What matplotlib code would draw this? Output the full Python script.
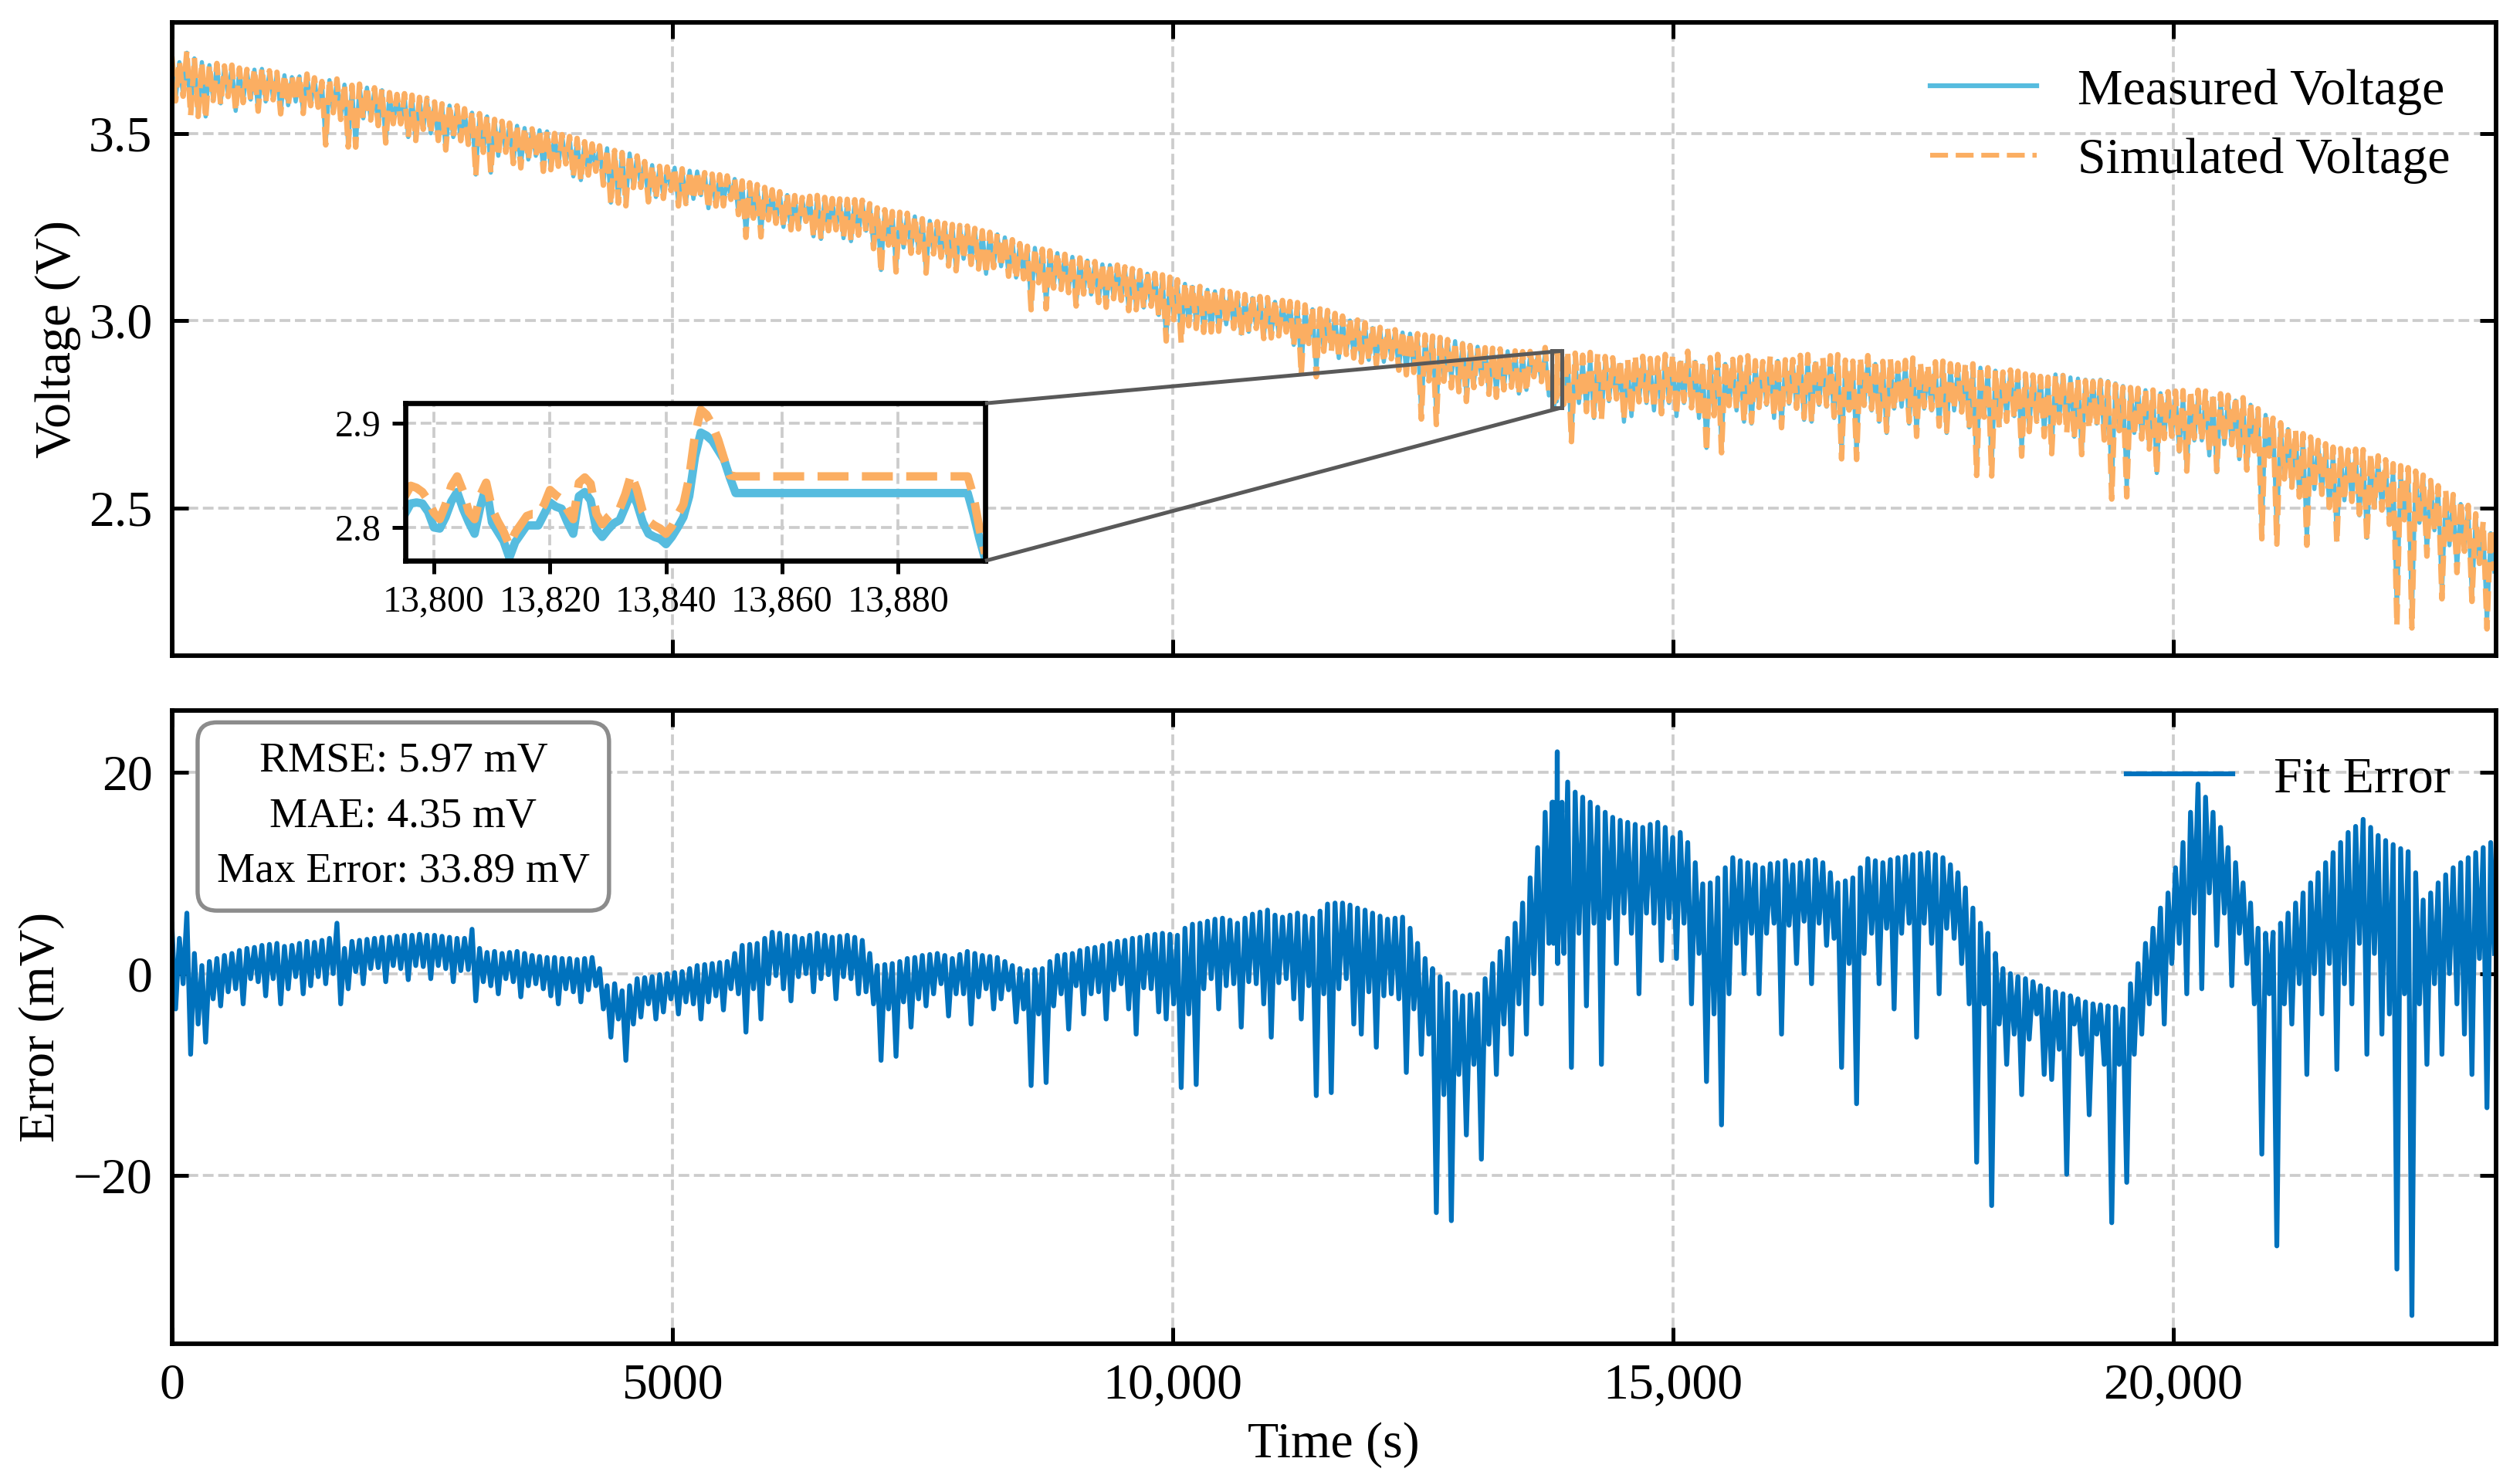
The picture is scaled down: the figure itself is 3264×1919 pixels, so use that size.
import numpy as np
import matplotlib
matplotlib.use('Agg')
import matplotlib.pyplot as plt
from matplotlib.ticker import FuncFormatter
from mpl_toolkits.axes_grid1.inset_locator import mark_inset

plt.rcParams['font.family'] = ['Liberation Serif', 'DejaVu Serif']
plt.rcParams['font.size'] = 15.8

# ---- data: every 75 s a rest value, then a pulse value 37.5 s later ----
step = 75.0

# measured voltage, rest readings [V]
v_hi = [3.700, 3.690, 3.715, 3.700, 3.690, 3.682, 3.685, 3.678, 3.680, 3.672,
        3.668, 3.670, 3.672, 3.664, 3.660, 3.655, 3.650, 3.652, 3.655, 3.645,
        3.635, 3.642, 3.640, 3.630, 3.625, 3.628, 3.622, 3.618, 3.615, 3.605,
        3.600, 3.602, 3.598, 3.592, 3.590, 3.580, 3.575, 3.574, 3.570, 3.562,
        3.555, 3.550, 3.545, 3.535, 3.530, 3.525, 3.520, 3.514, 3.510, 3.508,
        3.505, 3.498, 3.495, 3.490, 3.485, 3.476, 3.470, 3.466, 3.460, 3.455,
        3.450, 3.446, 3.440, 3.425, 3.415, 3.412, 3.410, 3.408, 3.405, 3.400,
        3.398, 3.394, 3.390, 3.388, 3.385, 3.378, 3.370, 3.365, 3.360, 3.352,
        3.345, 3.340, 3.335, 3.330, 3.325, 3.328, 3.330, 3.325, 3.322, 3.321,
        3.320, 3.319, 3.318, 3.310, 3.300, 3.295, 3.290, 3.288, 3.285, 3.278,
        3.270, 3.266, 3.262, 3.258, 3.255, 3.252, 3.250, 3.244, 3.238, 3.234,
        3.230, 3.222, 3.215, 3.205, 3.198, 3.194, 3.190, 3.185, 3.180, 3.175,
        3.170, 3.165, 3.160, 3.155, 3.150, 3.148, 3.145, 3.140, 3.135, 3.130,
        3.125, 3.122, 3.118, 3.112, 3.105, 3.098, 3.090, 3.086, 3.082, 3.078,
        3.075, 3.072, 3.068, 3.064, 3.060, 3.058, 3.055, 3.050, 3.048, 3.045,
        3.042, 3.036, 3.030, 3.025, 3.020, 3.012, 3.005, 3.000, 2.995, 2.988,
        2.980, 2.976, 2.973, 2.970, 2.968, 2.965, 2.962, 2.960, 2.958, 2.955,
        2.950, 2.945, 2.940, 2.935, 2.930, 2.928, 2.925, 2.922, 2.918, 2.914,
        2.910, 2.908, 2.905, 2.912, 2.915, 2.905, 2.900, 2.895, 2.890, 2.898,
        2.895, 2.888, 2.885, 2.882, 2.880, 2.892, 2.890, 2.884, 2.885, 2.895,
        2.895, 2.888, 2.905, 2.890, 2.880, 2.892, 2.900, 2.884, 2.885, 2.890,
        2.895, 2.882, 2.880, 2.894, 2.892, 2.884, 2.885, 2.896, 2.898, 2.886,
        2.890, 2.896, 2.900, 2.885, 2.882, 2.890, 2.895, 2.884, 2.880, 2.886,
        2.875, 2.882, 2.888, 2.876, 2.870, 2.878, 2.880, 2.874, 2.872, 2.876,
        2.878, 2.874, 2.870, 2.866, 2.862, 2.868, 2.865, 2.858, 2.855, 2.852,
        2.850, 2.856, 2.855, 2.848, 2.845, 2.842, 2.840, 2.842, 2.838, 2.832,
        2.825, 2.822, 2.818, 2.814, 2.810, 2.806, 2.802, 2.801, 2.800, 2.798,
        2.795, 2.794, 2.792, 2.790, 2.788, 2.786, 2.785, 2.775, 2.760, 2.748,
        2.735, 2.722, 2.710, 2.700, 2.690, 2.680, 2.670, 2.660, 2.650, 2.645,
        2.640, 2.642, 2.640, 2.632, 2.625, 2.615, 2.605, 2.600, 2.595, 2.588,
        2.580, 2.565, 2.550, 2.538, 2.525, 2.510, 2.495, 2.472, 2.450, 2.432]

# measured voltage, pulse readings [V]
v_lo = [3.590, 3.600, 3.555, 3.550, 3.545, 3.590, 3.580, 3.600, 3.560, 3.585,
        3.590, 3.560, 3.585, 3.590, 3.555, 3.575, 3.585, 3.555, 3.575, 3.570,
        3.470, 3.555, 3.540, 3.465, 3.463, 3.540, 3.535, 3.520, 3.475, 3.525,
        3.525, 3.490, 3.480, 3.510, 3.500, 3.480, 3.455, 3.490, 3.480, 3.470,
        3.390, 3.450, 3.395, 3.440, 3.450, 3.420, 3.410, 3.430, 3.440, 3.400,
        3.405, 3.415, 3.420, 3.385, 3.375, 3.390, 3.400, 3.365, 3.315, 3.318,
        3.315, 3.360, 3.360, 3.320, 3.330, 3.330, 3.350, 3.310, 3.315, 3.325,
        3.335, 3.300, 3.308, 3.310, 3.325, 3.285, 3.228, 3.275, 3.228, 3.270,
        3.260, 3.250, 3.245, 3.245, 3.265, 3.225, 3.218, 3.240, 3.245, 3.220,
        3.212, 3.230, 3.240, 3.195, 3.135, 3.205, 3.138, 3.195, 3.185, 3.185,
        3.130, 3.180, 3.170, 3.150, 3.135, 3.165, 3.155, 3.140, 3.125, 3.145,
        3.145, 3.120, 3.115, 3.115, 3.040, 3.105, 3.042, 3.090, 3.085, 3.080,
        3.040, 3.075, 3.070, 3.050, 3.040, 3.060, 3.055, 3.030, 3.035, 3.035,
        3.040, 3.015, 2.950, 3.005, 2.952, 2.990, 2.990, 2.970, 2.970, 2.975,
        2.990, 2.980, 2.965, 2.970, 2.980, 2.955, 2.960, 2.960, 2.970, 2.935,
        2.860, 2.940, 2.862, 2.920, 2.930, 2.900, 2.910, 2.905, 2.895, 2.895,
        2.890, 2.890, 2.900, 2.870, 2.865, 2.865, 2.745, 2.845, 2.746, 2.850,
        2.845, 2.820, 2.800, 2.830, 2.850, 2.810, 2.805, 2.820, 2.830, 2.805,
        2.815, 2.850, 2.840, 2.800, 2.690, 2.775, 2.686, 2.780, 2.760, 2.740,
        2.745, 2.785, 2.790, 2.730, 2.745, 2.785, 2.780, 2.760, 2.750, 2.780,
        2.745, 2.780, 2.770, 2.740, 2.660, 2.750, 2.662, 2.775, 2.760, 2.730,
        2.725, 2.770, 2.775, 2.740, 2.720, 2.778, 2.765, 2.735, 2.730, 2.775,
        2.770, 2.740, 2.640, 2.760, 2.642, 2.772, 2.760, 2.730, 2.700, 2.765,
        2.770, 2.725, 2.697, 2.765, 2.760, 2.720, 2.700, 2.760, 2.755, 2.715,
        2.605, 2.745, 2.608, 2.720, 2.740, 2.745, 2.650, 2.710, 2.735, 2.700,
        2.655, 2.735, 2.720, 2.690, 2.650, 2.725, 2.725, 2.690, 2.548, 2.715,
        2.550, 2.700, 2.690, 2.660, 2.593, 2.690, 2.690, 2.650, 2.600, 2.680,
        2.680, 2.640, 2.595, 2.670, 2.670, 2.630, 2.600, 2.655, 2.435, 2.640,
        2.430, 2.580, 2.560, 2.530, 2.410, 2.550, 2.540, 2.500, 2.415, 2.520,
        2.520, 2.480, 2.420, 2.500, 2.500, 2.460, 2.215, 2.470, 2.213, 2.460,
        2.380, 2.440, 2.265, 2.400, 2.330, 2.390, 2.260, 2.350, 2.190, 2.330]

# fit error (simulated - measured) at the rest instants [mV]
e_hi = [4.9, 3.5, 6.0, 2.0, 0.8, 1.2, 1.5, 1.8, 2.0, 2.3,
        2.5, 2.6, 2.8, 2.9, 3.0, 2.7, 2.8, 3.0, 3.2, 3.1,
        3.3, 3.5, 5.0, 2.5, 3.2, 3.3, 3.4, 3.5, 3.6, 3.6,
        3.7, 3.8, 3.8, 3.9, 3.8, 3.8, 3.7, 3.6, 3.5, 3.5,
        4.4, 2.5, 2.1, 2.2, 2.0, 2.1, 2.2, 2.0, 1.8, 1.7,
        1.6, 1.6, 1.5, 1.5, 1.4, 1.5, 1.6, 0.5, -1.2, -1.0,
        -1.7, -1.2, -0.5, -0.4, -0.3, -0.1, 0.0, 0.1, 0.2, 0.5,
        0.8, 0.9, 1.0, 1.1, 1.2, 2.0, 2.8, 2.9, 3.0, 3.5,
        4.1, 4.0, 3.8, 3.7, 3.5, 3.8, 4.0, 3.8, 3.6, 3.7,
        3.8, 3.6, 3.3, 2.0, 0.8, 0.9, 1.0, 1.2, 1.5, 1.6,
        1.8, 1.9, 2.0, 1.8, 1.5, 1.9, 2.2, 2.0, 1.8, 1.7,
        1.6, 1.2, 0.8, 0.5, 0.3, 0.4, 0.5, 1.2, 1.8, 1.9,
        2.0, 2.3, 2.5, 2.6, 2.8, 3.0, 3.2, 3.3, 3.5, 3.6,
        3.8, 3.9, 4.0, 3.9, 3.8, 4.5, 4.9, 5.0, 5.2, 5.4,
        5.5, 5.3, 5.0, 5.5, 5.9, 6.1, 6.3, 5.8, 5.6, 5.8,
        6.0, 5.7, 5.5, 6.2, 6.9, 7.0, 7.0, 6.8, 6.5, 6.3,
        6.0, 5.7, 5.4, 5.5, 5.6, 4.5, 3.0, 1.5, 0.5, -0.3,
        -1.0, -1.8, -2.2, -2.1, -2.0, -0.5, 1.0, 2.2, 3.5, 5.0,
        7.0, 9.5, 12.5, 16.0, 20.0, 21.0, 19.0, 18.0, 17.5, 17.0,
        16.5, 16.0, 15.5, 15.2, 15.0, 14.8, 14.5, 14.8, 15.0, 14.5,
        13.5, 14.0, 13.0, 11.0, 8.9, 9.0, 9.5, 10.5, 11.5, 11.2,
        11.0, 10.8, 10.5, 10.9, 11.0, 11.2, 10.8, 11.0, 11.2, 11.3,
        11.0, 10.0, 9.0, 9.2, 9.5, 10.5, 11.4, 11.2, 11.0, 11.3,
        11.5, 11.6, 11.8, 11.9, 12.0, 11.8, 11.5, 10.8, 10.0, 8.5,
        6.5, 5.0, 4.0, 2.0, 0.5, 0.0, -0.3, -0.5, -0.8, -1.2,
        -1.5, -1.8, -2.0, -2.2, -2.5, -2.8, -3.0, -3.1, -3.2, -3.3,
        -3.5, -1.0, 1.0, 3.0, 4.5, 6.5, 8.0, 10.5, 13.0, 16.0,
        18.8, 17.5, 16.0, 14.5, 12.5, 11.0, 9.0, 7.0, 4.5, 4.0,
        4.1, 5.0, 6.0, 7.0, 8.0, 9.0, 10.0, 11.0, 12.0, 13.0,
        14.0, 14.6, 15.3, 14.5, 13.7, 13.2, 12.8, 12.4, 12.1, 10.0,
        7.3, 8.0, 9.0, 9.8, 10.5, 11.0, 11.5, 12.0, 12.5, 13.0]

# fit error at the pulse instants [mV]
e_lo = [-3.5, -1.0, -8.0, -5.0, -6.8, -2.5, -3.2, -1.8, -1.5, -3.0,
        -0.5, -0.8, -2.2, -0.5, -3.0, -1.5, -0.3, -2.0, -1.2, -0.3,
        -1.0, 0.0, -3.0, -1.5, 0.2, -1.0, 0.5, 0.6, -0.8, 0.8,
        0.5, -0.6, 0.8, 0.7, -0.5, 0.8, 0.5, -0.8, 0.3, 0.4,
        -2.7, -0.8, -1.2, -2.0, -0.5, -0.8, -2.3, -1.2, -1.0, -1.5,
        -2.2, -3.0, -1.5, -1.8, -2.8, -1.6, -1.2, -3.5, -6.3, -4.5,
        -8.6, -5.0, -4.3, -3.0, -4.5, -3.8, -2.5, -4.0, -2.8, -3.0,
        -4.5, -2.8, -2.2, -3.6, -1.5, -2.0, -5.8, -1.5, -4.5, -1.0,
        -0.2, -1.5, -2.7, -0.3, 0.0, -1.8, -0.5, -0.1, -2.5, -0.3,
        -0.5, -2.0, -1.8, -3.0, -8.6, -3.5, -8.2, -2.8, -5.3, -2.5,
        -3.2, -2.0, -1.0, -4.2, -2.0, -2.0, -5.0, -2.3, -1.5, -3.5,
        -2.5, -1.6, -4.8, -3.5, -11.1, -4.0, -10.8, -3.2, -2.0, -5.5,
        -1.2, -4.0, -2.0, -1.8, -4.5, -1.6, -1.0, -3.5, -6.0, -1.4,
        -1.5, -3.8, -4.5, -3.0, -11.3, -4.0, -11.0, -1.5, -0.5, -3.5,
        -1.2, -1.0, -5.3, -0.8, -1.0, -3.0, -6.3, -0.9, -0.5, -2.5,
        -4.5, -1.2, -12.1, -2.0, -11.8, -1.5, -0.5, -5.0, -6.0, -1.8,
        -7.3, -2.2, -2.0, -2.5, -9.8, -3.5, -8.0, -6.0, -23.7, -12.0,
        -24.5, -10.0, -16.0, -9.0, -18.4, -7.0, -10.0, -5.0, -8.0, -3.0,
        -6.0, 0.0, -3.0, 3.0, 5.0, 2.0, -9.3, 4.0, -3.2, 5.0,
        -9.0, 5.5, 1.0, 6.0, 4.0, -2.0, 6.0, 5.0, 1.3, 5.5,
        1.5, 5.0, -3.0, 2.0, -10.7, -4.0, -15.0, -2.0, 3.0, 0.0,
        4.0, -2.0, 4.0, 5.0, -6.0, 4.8, 1.0, 5.2, -1.0, 5.0,
        2.8, 3.5, -9.3, 1.0, -12.9, 2.0, 4.0, -1.0, 4.5, -3.5,
        4.0, 5.0, -6.3, 5.0, 3.0, -2.0, 4.5, 3.5, 1.0, -3.0,
        -18.7, -3.0, -23.0, -5.0, -9.0, -6.0, -12.0, -6.5, -4.0, -10.0,
        -10.5, -7.5, -19.9, -5.0, -8.0, -14.0, -6.0, -9.0, -24.7, -9.0,
        -20.7, -8.0, -6.0, -3.0, -2.0, -5.0, 1.0, 3.0, -2.0, 6.0,
        -1.5, 8.0, 2.8, 6.0, -1.2, 4.0, 1.0, -3.0, -17.9, -2.0,
        -27.0, -3.0, -5.0, -1.0, -10.0, 0.0, -4.0, 1.0, -9.5, -1.0,
        -3.0, 3.0, -8.0, 2.0, -6.0, -4.0, -29.3, -2.0, -33.9, -3.0,
        -9.0, -1.0, -8.0, 0.0, -3.0, -6.0, -10.0, 1.5, -13.3, 2.0]

# 1 s detail shown in the inset
t_zoom = list(range(13795, 13853)) + [13892, 13893, 13894, 13895]
meas_zoom = [2.813, 2.823, 2.824, 2.823, 2.815, 2.800, 2.799, 2.810, 2.825, 2.834,
             2.818, 2.805, 2.794, 2.820, 2.840, 2.805, 2.796, 2.787, 2.771, 2.786,
             2.794, 2.802, 2.802, 2.802, 2.813, 2.824, 2.820, 2.818, 2.805, 2.794,
             2.830, 2.834, 2.826, 2.798, 2.791, 2.798, 2.804, 2.807, 2.820, 2.834,
             2.823, 2.805, 2.794, 2.791, 2.789, 2.784, 2.791, 2.800, 2.810, 2.830,
             2.868, 2.891, 2.888, 2.883, 2.874, 2.865, 2.848, 2.833,
             2.833, 2.813, 2.790, 2.770]
sim_zoom = [2.830, 2.840, 2.838, 2.834, 2.826, 2.814, 2.808, 2.822, 2.840, 2.849,
            2.835, 2.815, 2.808, 2.831, 2.843, 2.818, 2.806, 2.796, 2.783, 2.795,
            2.803, 2.811, 2.813, 2.813, 2.822, 2.836, 2.831, 2.827, 2.817, 2.808,
            2.843, 2.848, 2.842, 2.813, 2.803, 2.810, 2.815, 2.818, 2.832, 2.851,
            2.836, 2.815, 2.806, 2.802, 2.799, 2.794, 2.801, 2.812, 2.822, 2.848,
            2.889, 2.913, 2.908, 2.898, 2.884, 2.866, 2.850, 2.849,
            2.849, 2.830, 2.800, 2.775]

x_ticks = [0, 5000, 10000, 15000, 20000]
x_tick_labels = ['0', '5000', '10,000', '15,000', '20,000']
stats_text = 'RMSE: 5.97 mV\nMAE: 4.35 mV\nMax Error: 33.89 mV'

# ---- assemble series ----
t_hi = np.arange(len(v_hi)) * step
t = np.column_stack([t_hi, t_hi + step / 2]).ravel()
meas = np.column_stack([v_hi, v_lo]).ravel()
err = np.column_stack([e_hi, e_lo]).ravel()
sim = meas + err / 1000.0

tz = np.array(t_zoom, dtype=float)
mz = np.array(meas_zoom)
sz = np.array(sim_zoom)
keep = (t < tz[0]) | (t > tz[-1])
t_all = np.concatenate([t[keep], tz])
order = np.argsort(t_all)
t_all = t_all[order]
meas_all = np.concatenate([meas[keep], mz])[order]
sim_all = np.concatenate([sim[keep], sz])[order]
err_all = np.concatenate([err[keep], (sz - mz) * 1000.0])[order]

c_meas = '#56BCDF'
c_sim = '#FBAE62'
c_err = '#0072BD'
grid_kw = dict(ls='--', color='0.8', lw=0.9)

fig = plt.figure(figsize=(10.88, 6.397), dpi=300)
ax1 = fig.add_axes([0.0682, 0.5575, 0.9222, 0.4273])
ax2 = fig.add_axes([0.0682, 0.0933, 0.9222, 0.4273], sharex=ax1)

for ax in (ax1, ax2):
    ax.tick_params(direction='in', top=True, right=True, length=5, width=1.2, pad=6)
    for s in ax.spines.values():
        s.set_linewidth(1.4)
    ax.grid(True, **grid_kw)

# top: voltages
ax1.plot(t_all, meas_all, color=c_meas, lw=1.3, label='Measured Voltage')
ax1.plot(t_all, sim_all, color=c_sim, lw=1.7, ls='--', label='Simulated Voltage')
ax1.set_ylim(2.105, 3.796)
ax1.set_yticks([2.5, 3.0, 3.5])
ax1.set_ylabel('Voltage (V)', labelpad=2.5)
ax1.tick_params(labelbottom=False)
leg1 = ax1.legend(loc='upper right', frameon=False, handlelength=2.1, handletextpad=0.8,
                  labelspacing=0.45)
for ln in leg1.get_lines():
    ln.set_linewidth(1.5)

# bottom: error
ax2.plot(t_all, err_all, color=c_err, lw=1.5, label='Fit Error')
ax2.set_xlim(0, 23226)
ax2.set_ylim(-36.7, 26.1)
ax2.set_yticks([-20, 0, 20])
ax2.set_xticks(x_ticks, labels=x_tick_labels)
ax2.set_xlabel('Time (s)', labelpad=4)
ax2.set_ylabel('Error (mV)', labelpad=2.5)
ax2.legend(loc='upper right', frameon=False, handlelength=2.1, handletextpad=0.8)
ax2.text(0.0996, 0.8325, stats_text, transform=ax2.transAxes, ha='center', va='center',
         multialignment='center', fontsize=13.3, linespacing=1.55,
         bbox=dict(boxstyle='round,pad=0.45', fc='white', ec='0.55', lw=1.3))

# inset
axins = fig.add_axes([0.1607, 0.6215, 0.2302, 0.1063])
axins.plot(tz, mz, color=c_meas, lw=2.6)
axins.plot(tz, sz, color=c_sim, lw=2.6, ls='--')
axins.set_xlim(13795, 13895)
axins.set_ylim(2.768, 2.919)
axins.set_xticks([13800, 13820, 13840, 13860, 13880])
axins.set_yticks([2.8, 2.9])
axins.xaxis.set_major_formatter(FuncFormatter(lambda x, pos: f'{x:,.0f}'))
axins.tick_params(direction='out', labelsize=11.5, length=4, width=1.2)
axins.grid(True, **grid_kw)
for s in axins.spines.values():
    s.set_linewidth(1.6)
mark_inset(ax1, axins, loc1=1, loc2=4, fc='none', ec='0.35', lw=1.2, zorder=5)

fig.savefig('out.png', dpi=300)
